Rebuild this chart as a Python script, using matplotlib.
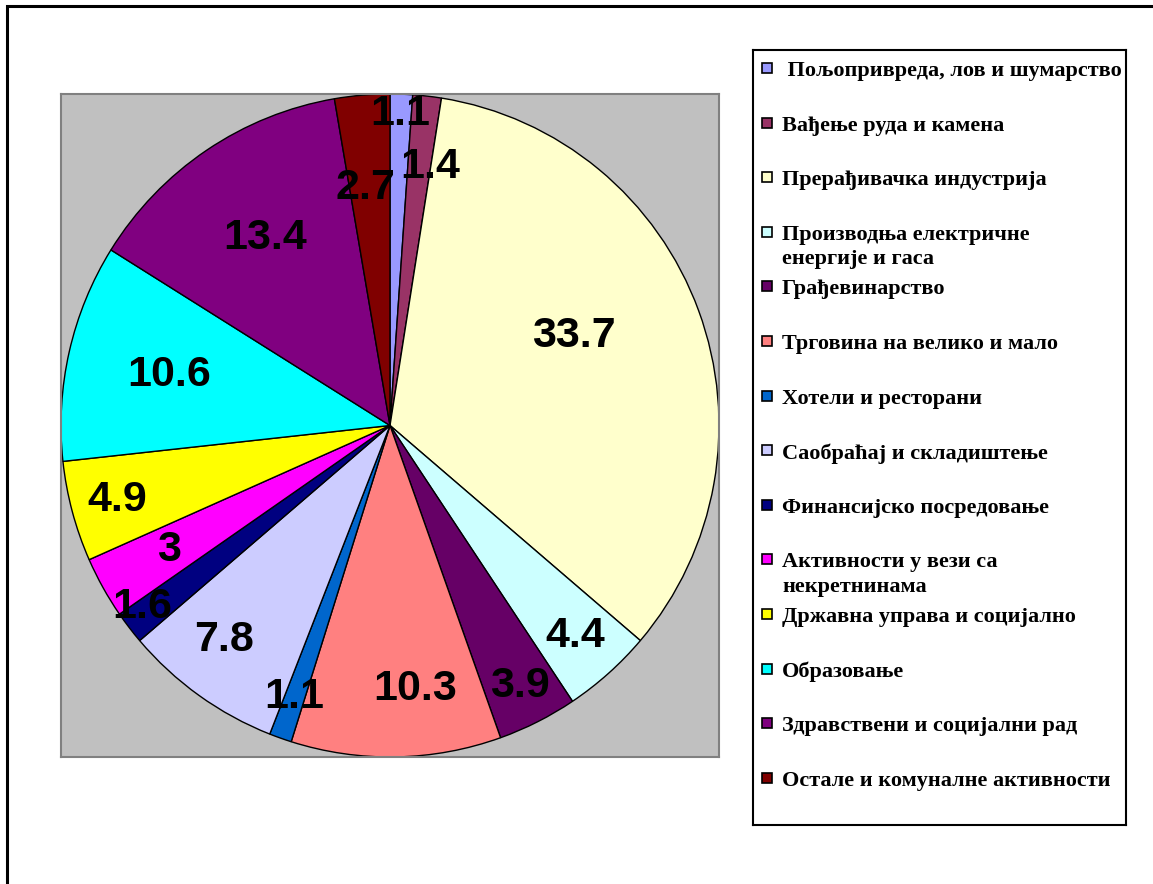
import numpy as np
import matplotlib
matplotlib.use("Agg")
import matplotlib.pyplot as plt
from matplotlib.patches import Rectangle

# sector names (legend) and shares in %
sectors = [
    " Пољопривреда, лов и шумарство",
    "Вађење руда и камена",
    "Прерађивачка индустрија",
    "Производња електричне\nенергије и гаса",
    "Грађевинарство",
    "Трговина на велико и мало",
    "Хотели и ресторани",
    "Саобраћај и складиштење",
    "Финансијско посредовање",
    "Активности у вези са\nнекретнинама",
    "Државна управа и социјално",
    "Образовање",
    "Здравствени и социјални рад",
    "Остале и комуналне активности",
]
shares = [1.1, 1.4, 33.7, 4.4, 3.9, 10.3, 1.1, 7.8, 1.6, 3.0, 4.9, 10.6, 13.4, 2.7]
colors = ["#9999FF", "#993366", "#FFFFCC", "#CCFFFF", "#660066", "#FF8080", "#0066CC",
          "#CCCCFF", "#000080", "#FF00FF", "#FFFF00", "#00FFFF", "#800080", "#800000"]

# where each value label sits (fraction of radius, clockwise nudge in degrees)
label_r = [0.94, 0.79, 0.62, 0.85, 0.88, 0.80, 0.87, 0.82, 0.93, 0.77, 0.86, 0.69, 0.68, 0.72]
label_nudge = [0, 2.5, -5.5, 0, 0, -4.5, 0, 2.5, 1.5, 0, 0, 0, 0, -1]

W, H = 1153, 884
fig = plt.figure(figsize=(W / 100, H / 100), dpi=100)

def px_axes(l, t, r, b):
    return fig.add_axes([l / W, 1 - b / H, (r - l) / W, (b - t) / H])

# outer chart frame (only left/top visible)
fig.add_artist(Rectangle((7 / W, -0.1), 1.2, 1 - 6 / H + 0.1, transform=fig.transFigure,
                         fill=False, edgecolor="black", linewidth=2.2))

# plot area with the pie
ax = px_axes(61, 94, 719, 757)
wedges, _ = ax.pie(shares, colors=colors, startangle=90, counterclock=False, frame=True,
                   wedgeprops=dict(edgecolor="black", linewidth=1.0))
ax.set_facecolor("#C0C0C0")
for s in ax.spines.values():
    s.set_visible(True)
    s.set_color("#808080")
    s.set_linewidth(1.5)
ax.set_aspect("auto")
ax.set_xlim(-1.0, 1.0)
ax.set_ylim(-1.0, 1.0)
ax.set_xticks([])
ax.set_yticks([])

for w, v, r, nd in zip(wedges, shares, label_r, label_nudge):
    mid = np.deg2rad((w.theta1 + w.theta2) / 2 - nd)
    ax.text(r * np.cos(mid), r * np.sin(mid), "%g" % v, ha="center", va="center",
            fontsize=31, fontweight="bold", family="Liberation Sans", color="black")

# legend box, drawn in pixel units
lg = px_axes(753, 50, 1126, 825)
lg.set_xlim(0, 373)
lg.set_ylim(775, 0)
lg.set_xticks([])
lg.set_yticks([])
for s in lg.spines.values():
    s.set_color("black")
    s.set_linewidth(1.5)
row_gap = 54.6
for i, (name, c) in enumerate(zip(sectors, colors)):
    y = 18 + i * row_gap
    lg.add_patch(Rectangle((9, y - 5), 10, 10, facecolor=c, edgecolor="black", linewidth=1.2))
    lg.text(29, y - 7, name, ha="left", va="top", fontsize=16, fontweight="bold",
            family="Liberation Serif", linespacing=1.3, color="black")

fig.savefig("out.png", dpi=100)
